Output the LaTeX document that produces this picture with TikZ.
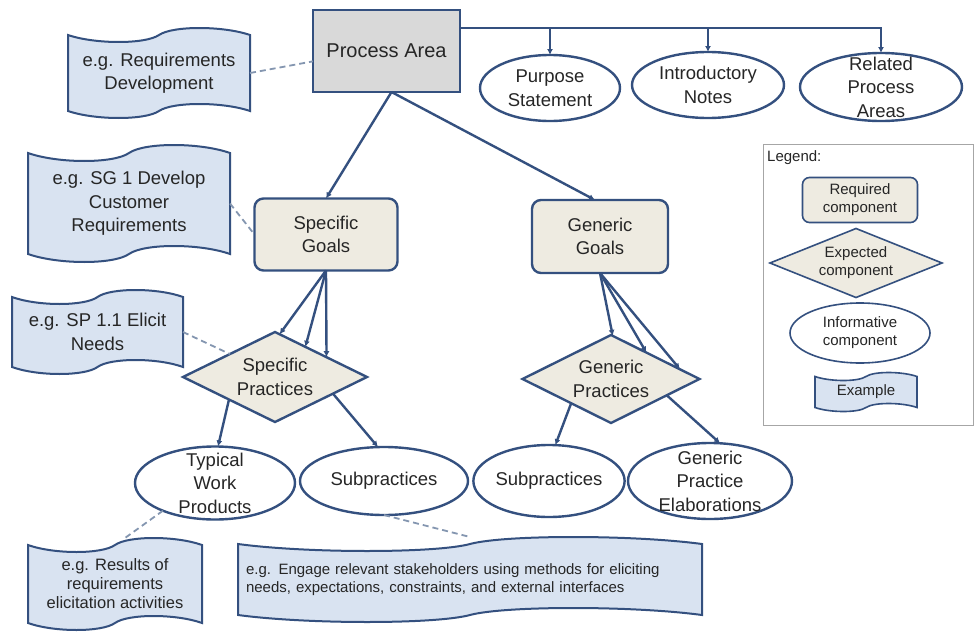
\documentclass[tikz,border=0pt]{standalone}
\usepackage{fontspec}
\setmainfont{Liberation Sans}
\usetikzlibrary{shapes.geometric,arrows.meta,calc}

% ---- "example" shape: punched tape, top and bottom edges wave
%      (sag on the left half, bulge on the right half) ----
\makeatletter
\newdimen\tpL \newdimen\tpR \newdimen\tpT \newdimen\tpBt \newdimen\tpH
\newdimen\tpXa \newdimen\tpXb \newdimen\tpXm \newdimen\tpXc \newdimen\tpXd
\newdimen\tpWv \newdimen\tpK
\newdimen\tpTm \newdimen\tpTd \newdimen\tpTu
\newdimen\tpBm \newdimen\tpBd \newdimen\tpBu
\pgfkeys{/pgf/flag wave/.initial=8pt}
\pgfdeclareshape{flagtape}{%
  \inheritsavedanchors[from=rectangle]%
  \inheritanchorborder[from=rectangle]%
  \inheritanchor[from=rectangle]{center}%
  \inheritanchor[from=rectangle]{north}%
  \inheritanchor[from=rectangle]{south}%
  \inheritanchor[from=rectangle]{east}%
  \inheritanchor[from=rectangle]{west}%
  \inheritanchor[from=rectangle]{north east}%
  \inheritanchor[from=rectangle]{north west}%
  \inheritanchor[from=rectangle]{south east}%
  \inheritanchor[from=rectangle]{south west}%
  \inheritanchor[from=rectangle]{mid}%
  \inheritanchor[from=rectangle]{base}%
  \inheritanchor[from=rectangle]{text}%
  \backgroundpath{%
    \southwest \tpL=\pgf@x \tpBt=\pgf@y
    \northeast \tpR=\pgf@x \tpT=\pgf@y
    \pgfmathsetlength\tpWv{\pgfkeysvalueof{/pgf/flag wave}}%
    \tpK=1.333\tpWv
    % half width
    \tpH=\tpR \advance\tpH by -\tpL \tpH=0.5\tpH
    \tpXa=\tpL \advance\tpXa by 0.3\tpH
    \tpXb=\tpL \advance\tpXb by 0.85\tpH
    \tpXm=\tpL \advance\tpXm by \tpH
    \tpXc=\tpL \advance\tpXc by 1.15\tpH
    \tpXd=\tpL \advance\tpXd by 1.7\tpH
    % top edge levels
    \tpTm=\tpT \advance\tpTm by -\tpWv
    \tpTd=\tpTm \advance\tpTd by -\tpK
    \tpTu=\tpTm \advance\tpTu by \tpK
    % bottom edge levels
    \tpBm=\tpBt \advance\tpBm by \tpWv
    \tpBd=\tpBm \advance\tpBd by -\tpK
    \tpBu=\tpBm \advance\tpBu by \tpK
    \pgfpathmoveto{\pgfqpoint{\tpL}{\tpTm}}%
    \pgfpathcurveto{\pgfqpoint{\tpXa}{\tpTd}}{\pgfqpoint{\tpXb}{\tpTd}}{\pgfqpoint{\tpXm}{\tpTm}}%
    \pgfpathcurveto{\pgfqpoint{\tpXc}{\tpTu}}{\pgfqpoint{\tpXd}{\tpTu}}{\pgfqpoint{\tpR}{\tpTm}}%
    \pgfpathlineto{\pgfqpoint{\tpR}{\tpBm}}%
    \pgfpathcurveto{\pgfqpoint{\tpXd}{\tpBu}}{\pgfqpoint{\tpXc}{\tpBu}}{\pgfqpoint{\tpXm}{\tpBm}}%
    \pgfpathcurveto{\pgfqpoint{\tpXb}{\tpBd}}{\pgfqpoint{\tpXa}{\tpBd}}{\pgfqpoint{\tpL}{\tpBm}}%
    \pgfpathclose
  }%
}
\makeatother

\definecolor{edge}{HTML}{34507F}
\definecolor{ink}{HTML}{262626}
\definecolor{pagray}{HTML}{D9D9D9}
\definecolor{goal}{HTML}{EEEBE1}
\definecolor{exfill}{HTML}{D9E3F1}
\definecolor{dashc}{HTML}{8496B0}
\definecolor{legline}{HTML}{A6A6A6}

\newcommand\bigtxt{\fontsize{18.5}{23.5}\selectfont}
\newcommand\patxt{\fontsize{20}{23.5}\selectfont}
\newcommand\extxt{\fontsize{16.5}{19}\selectfont}
\newcommand\smtxt{\fontsize{15}{18}\selectfont}
\newcommand\legtxt{\fontsize{15}{18}\selectfont}

\begin{document}
\begin{tikzpicture}[
  x=1pt, y=-1pt,
  base/.style={draw=edge, line width=2.4pt, text=ink, font=\bigtxt,
    align=center, inner sep=0pt, outer sep=0pt},
  pa/.style={base, rectangle, fill=pagray, font=\patxt},
  req/.style={base, rectangle, rounded corners=9pt, fill=goal},
  expd/.style={base, diamond, aspect=2, fill=goal},
  info/.style={base, ellipse, fill=white},
  exmp/.style={base, shape=flagtape, fill=exfill, line width=2pt},
  txt/.style={text=ink, font=\bigtxt, align=center, inner sep=0pt},
  arr/.style={draw=edge, line width=2.4pt, -{Latex[length=6pt,width=6pt]}},
  link/.style={draw=dashc, line width=1.8pt, dash pattern=on 6pt off 4pt},
  legshape/.style={line width=1.6pt, font=\legtxt}
]
\fill[white] (0,0) rectangle (978,632);
\useasboundingbox (0,0) rectangle (978,632);

% ---- top level ----
\node[pa, minimum width=147, minimum height=82] (PA) at (386.5,51) {Process Area};

\node[info, minimum width=140, minimum height=66] (purpose) at (550,88) {};
\node[txt] (purposeT) at (purpose) {Purpose\\Statement};
\node[info, minimum width=152, minimum height=66] (intro) at (708,85) {};
\node[txt] (introT) at (intro) {Introductory\\Notes};
\node[info, minimum width=162, minimum height=68] (related) at (881,87) {};
\node[txt] (relatedT) at (related) {Related\\Process\\Areas};

\coordinate (busY) at (0,28);
\draw[arr] (PA.east |- busY) -| (related.north);
\draw[arr] (purpose.north |- busY) -- (purpose.north);
\draw[arr] (intro.north |- busY) -- (intro.north);

% ---- goals ----
\node[req, minimum width=143, minimum height=72] (SG) at (326,234.5) {Specific\\Goals};
\node[req, minimum width=136, minimum height=73] (GG) at (600,236.5) {Generic\\Goals};

\draw[arr] ($(PA.south)+(5,0)$) -- (SG.north);
\draw[arr] ($(PA.south)+(5,0)$) -- ($(GG.north)+(-5,0)$);

% ---- practices ----
\node[expd, minimum width=184, minimum height=90] (SP) at (275,377) {Specific\\Practices};
\node[expd, minimum width=177, minimum height=88] (GP) at (611,379) {Generic\\Practices};

\foreach \t in {0.05,0.33,0.56}
  \draw[arr] (SG.south) -- ($(SP.north)!\t!(SP.east)$);
\foreach \t in {0.02,0.4,0.78}
  \draw[arr] (GG.south) -- ($(GP.north)!\t!(GP.east)$);

% ---- informative components below the practices ----
\node[info, minimum width=160, minimum height=73] (twp) at (215,483) {};
\node[txt] (twpT) at (twp) {Typical\\Work\\Products};
\node[info, minimum width=168, minimum height=68] (subA) at (384,481) {Subpractices};
\node[info, minimum width=150, minimum height=72] (subB) at (549,481) {Subpractices};
\node[info, minimum width=164, minimum height=76] (gpe) at (710,481) {};
\node[txt] (gpeT) at (gpe) {Generic\\Practice\\Elaborations};

\draw[arr] ($(SP.west)!0.5!(SP.south)$) -- ($(twp.north)+(3,0)$);
\draw[arr] ($(SP.east)!0.37!(SP.south)$) -- (subA.100);
\draw[arr] ($(GP.west)!0.55!(GP.south)$) -- (subB.80);
\draw[arr] ($(GP.east)!0.37!(GP.south)$) -- (gpe.75);

% ---- examples ----
\node[exmp, /pgf/flag wave=7pt, minimum width=182, minimum height=90] (exPA) at (159,73)
  {e.g. Requirements\\Development};
\node[exmp, /pgf/flag wave=8pt, minimum width=202, minimum height=117] (exSG) at (129,203.5)
  {e.g. SG 1 Develop\\Customer\\Requirements};
\node[exmp, /pgf/flag wave=7pt, minimum width=171, minimum height=84] (exSP) at (97.5,332)
  {e.g. SP 1.1 Elicit\\Needs};
\node[exmp, /pgf/flag wave=7pt, font=\extxt, minimum width=174, minimum height=92] (exWP) at (115,584)
  {e.g. Results of\\requirements\\elicitation activities};
\node[exmp, /pgf/flag wave=7pt, font=\smtxt, align=left, text width=448, minimum width=464,
  minimum height=85] (exSub) at (470,579.5)
  {e.g. Engage relevant stakeholders using methods for eliciting\\
   needs, expectations, constraints, and external interfaces};

\draw[link] (exPA.east) -- (PA.188);
\draw[link] (exSG.east) -- (SG.west);
\draw[link] (exSP.east) -- ($(SP.north)!0.49!(SP.west)$);
\draw[link] (twp.208) -- ($(exWP.north)+(10,0)$);
\draw[link] (subA.south) -- (exSub.north);

% ---- legend ----
\node[draw=legline, line width=1pt, minimum width=210, minimum height=281,
  inner sep=0pt] (legend) at (868,284.5) {};
\node[txt, font=\legtxt, anchor=west] (legendT) at (767,158) {Legend:};
\node[req, legshape, minimum width=115, minimum height=45, rounded corners=7pt]
  (legReq) at (860,200) {Required\\component};
\node[expd, legshape, aspect=2.5, minimum width=172, minimum height=69]
  (legExp) at (856,263) {Expected\\component};
\node[info, legshape, minimum width=140, minimum height=60]
  (legInf) at (860,333) {Informative\\component};
\node[exmp, legshape, /pgf/flag wave=4pt, minimum width=102, minimum height=39]
  (legEx) at (866,392) {Example};
\end{tikzpicture}
\end{document}
